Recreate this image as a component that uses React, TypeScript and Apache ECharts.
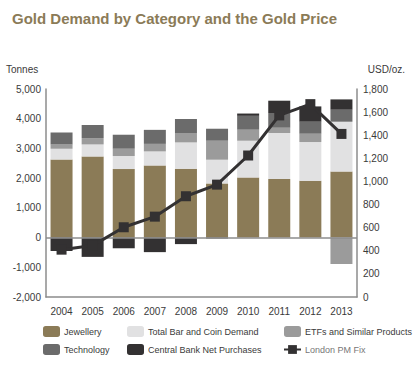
import React, { useEffect, useRef } from "react";
import * as echarts from "echarts";

const years = ["2004", "2005", "2006", "2007", "2008", "2009", "2010", "2011", "2012", "2013"];
const jewellery = [2630, 2731, 2306, 2428, 2316, 1822, 2024, 1970, 1912, 2226];
const barCoin = [360, 404, 438, 472, 887, 798, 1235, 1549, 1303, 1673];
const etfs = [145, 215, 246, 253, 316, 639, 371, 178, 280, -890];
const technology = [405, 438, 471, 472, 471, 404, 467, 495, 404, 404];
const centralBank = [-450, -650, -360, -490, -220, -30, 77, 414, 515, 347];
const goldPrice = [409.7, 444.7, 603.5, 695.4, 872.0, 972.4, 1224.5, 1571.5, 1669.0, 1411.2];

const FONT = "'Liberation Sans', Arial, sans-serif";
const TXT = "#3a3a3a";
const AXIS = "#8c8c8c";

export default function App() {
  const ref = useRef<HTMLDivElement>(null);
  useEffect(() => {
    if (!ref.current) return;
    const chart = echarts.init(ref.current, null, { renderer: "svg" });
    const fmt = (v: number) => v.toLocaleString("en-US");
    const barSeries = (name: string, data: number[], color: string, extra: any = {}) => ({
      name,
      type: "bar",
      stack: "demand",
      data,
      barWidth: 22,
      itemStyle: { color },
      ...extra,
    });
    const legendBase = {
      top: 326,
      orient: "vertical",
      padding: 0,
      itemWidth: 17,
      itemHeight: 11,
      itemGap: 7,
      itemStyle: { borderWidth: 0 },
      textStyle: { fontSize: 9, fontFamily: FONT, color: TXT, lineHeight: 11, padding: [0, 0, 0, -1] },
    };
    chart.setOption({
      animation: false,
      backgroundColor: "#fff",
      textStyle: { fontFamily: FONT },
      title: {
        text: "Gold Demand by Category and the Gold Price",
        left: 7,
        top: 6,
        textStyle: { fontFamily: FONT, fontSize: 15, fontWeight: "bold", color: "#8b7b57" },
      },
      graphic: [
        { type: "text", style: { x: 6, y: 69, text: "Tonnes", fontSize: 10, fontFamily: FONT, fill: TXT, textVerticalAlign: "middle" } },
        { type: "text", style: { x: 405, y: 69, text: "USD/oz.", fontSize: 10, fontFamily: FONT, fill: TXT, textAlign: "right", textVerticalAlign: "middle" } },
      ],
      grid: { left: 46, right: 62, top: 89, bottom: 75 },
      xAxis: {
        type: "category",
        data: years,
        axisLine: { onZero: false, lineStyle: { color: AXIS, width: 1.5 } },
        axisTick: { show: false },
        axisLabel: { color: TXT, fontSize: 10, fontFamily: FONT, margin: 9 },
      },
      yAxis: [
        {
          type: "value",
          min: -2000,
          max: 5000,
          interval: 1000,
          axisLine: { show: true, lineStyle: { color: AXIS, width: 1.5 } },
          axisTick: { show: false },
          splitLine: { show: false },
          axisLabel: { color: TXT, fontSize: 10, fontFamily: FONT, margin: 5, formatter: fmt },
        },
        {
          type: "value",
          min: 0,
          max: 1800,
          interval: 200,
          position: "right",
          axisLine: { show: true, lineStyle: { color: AXIS, width: 1.5 } },
          axisTick: { show: false },
          splitLine: { show: false },
          axisLabel: { color: TXT, fontSize: 10, fontFamily: FONT, margin: 6, formatter: fmt },
        },
      ],
      legend: [
        { ...legendBase, left: 43, data: ["Jewellery", "Technology"] },
        { ...legendBase, left: 127, data: ["Total Bar and Coin Demand", "Central Bank Net Purchases"] },
        {
          ...legendBase,
          left: 283,
          data: ["ETFs and Similar Products", { name: "London PM Fix", textStyle: { color: "#777" } }],
        },
      ],
      series: [
        barSeries("Jewellery", jewellery, "#8b7b57"),
        barSeries("Total Bar and Coin Demand", barCoin, "#e1e1e2"),
        barSeries("ETFs and Similar Products", etfs, "#9b9b9b"),
        barSeries("Technology", technology, "#6b6b6b"),
        barSeries("Central Bank Net Purchases", centralBank, "#333132", {
          markLine: {
            silent: true,
            symbol: ["none", "none"],
            label: { show: false },
            lineStyle: { color: AXIS, width: 1.5, type: "solid" },
            data: [{ yAxis: 0 }],
          },
        }),
        {
          name: "London PM Fix",
          type: "line",
          yAxisIndex: 1,
          data: goldPrice,
          symbol: "rect",
          symbolSize: 10,
          lineStyle: { color: "#333132", width: 3 },
          itemStyle: { color: "#333132" },
          z: 5,
        },
      ],
    });
    return () => chart.dispose();
  }, []);
  return <div ref={ref} style={{ position: "fixed", left: 0, top: 0, width: 419, height: 372 }} />;
}
